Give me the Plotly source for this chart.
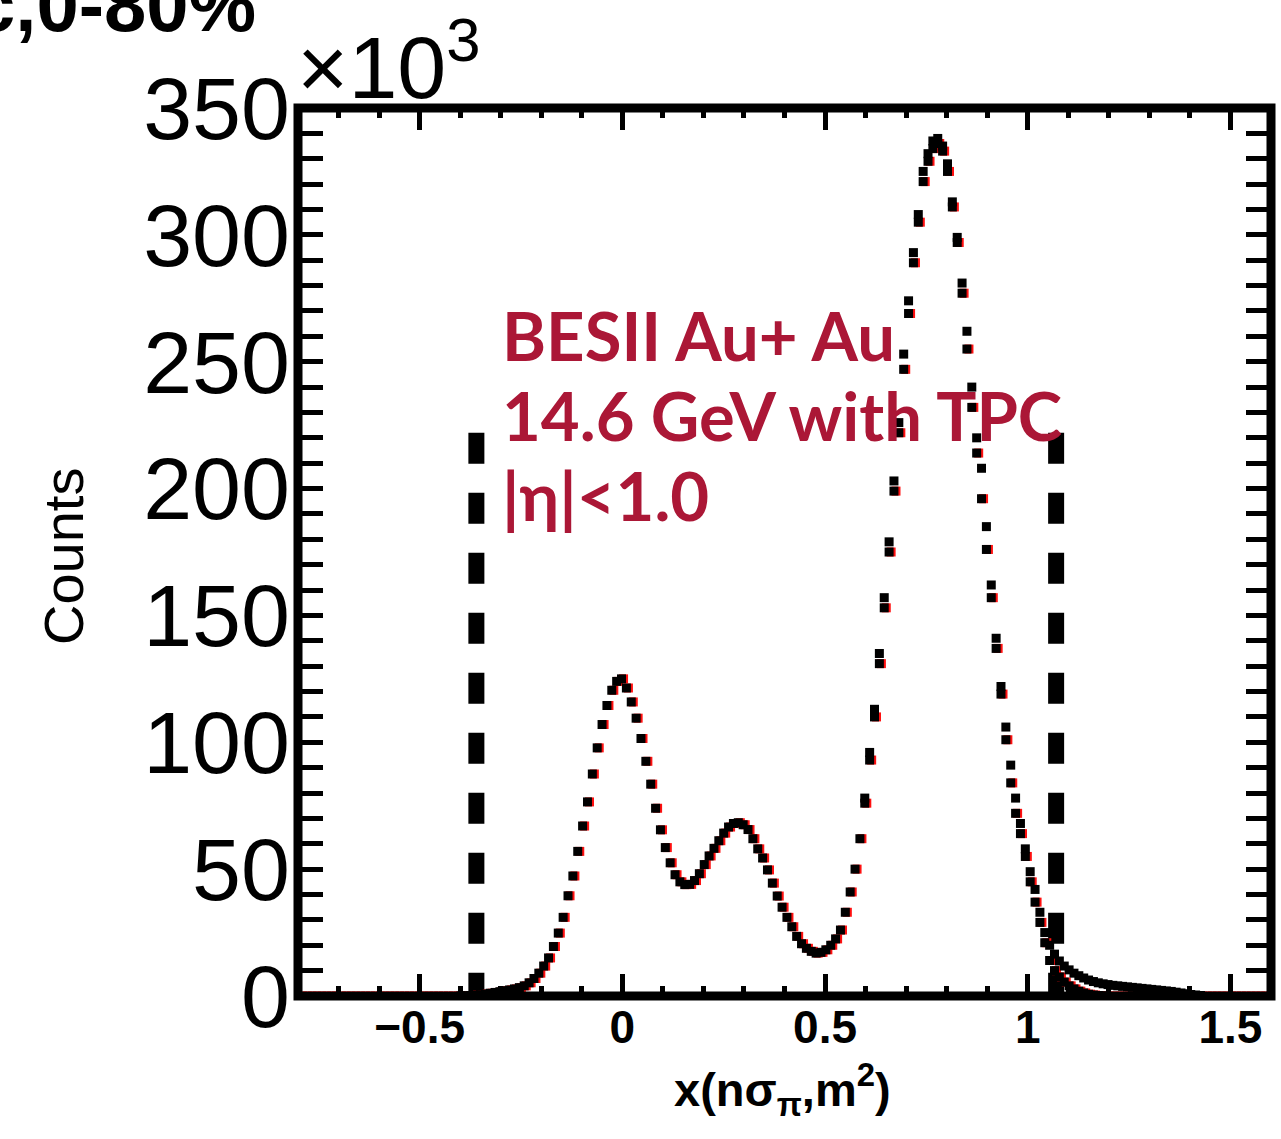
import numpy as np
import plotly.graph_objects as go

# ---- histogram binning -------------------------------------------------
bin_lo = -0.8
bin_width = 0.012
n_bins = 200
centers = bin_lo + bin_width * (np.arange(n_bins) + 0.5)

# counts per bin, in units of 10^3 (lower series, drawn with red shadow)
counts_lower = (
    [0.0] * 33
    + [0.05, 0.1, 0.2, 0.35, 0.55, 0.8, 1.1, 1.4, 1.7, 2.1,
       2.4, 2.8, 3.3, 4.0, 5.2, 6.9, 9.0, 11.8, 15.0, 19.5,
       24.8, 31.0, 39.5, 47.3, 57.0, 67.0, 76.5, 87.5, 97.8, 107.0,
       114.5, 120.5, 124.0, 125.0, 121.4, 115.9, 109.5, 101.5, 92.5, 83.5,
       74.0, 65.5, 58.5, 52.5, 47.8, 45.0, 43.9, 44.0, 45.5, 48.2,
       51.8, 55.2, 58.2, 61.2, 64.2, 66.6, 68.0, 68.3, 67.5, 65.6,
       62.0, 58.0, 54.4, 49.7, 44.5, 39.4, 35.0, 31.0, 27.3, 23.5,
       20.6, 18.8, 17.6, 16.9, 17.2, 18.2, 20.0, 22.5, 26.0, 33.0,
       41.0, 50.0, 62.0, 76.0, 93.0, 110.0, 131.0, 153.0, 175.0, 199.0,
       222.0, 247.0, 269.0, 289.0, 305.0, 321.0, 329.0, 334.0, 336.0, 333.0,
       325.0, 311.0, 297.0, 277.0, 255.0, 232.0, 214.0, 196.0, 176.0, 157.0,
       137.0, 119.0, 101.0, 84.0, 72.0, 64.0, 55.0, 45.0, 37.0, 29.0,
       21.0, 14.0, 10.0, 7.5, 5.5, 4.0, 2.8, 1.9, 1.2, 0.7,
       0.4, 0.2, 0.1]
    + [0.0] * 34
)

# upper series over the proton peak and its tail (bins 116..185)
upper_first_bin = 116
counts_upper = [
    78, 96, 113, 135, 157, 179, 203, 226, 253, 274,
    293, 308, 325, 332, 337, 338, 335, 328, 313, 299,
    281, 262, 240, 220, 208, 185, 162, 141, 122, 106,
    91, 78, 68, 58, 49, 42, 33, 25, 20, 16.5,
    13.8, 11.8, 10.3, 9.0, 8.0, 7.1, 6.3, 5.7, 5.2, 4.8,
    4.5, 4.2, 4.0, 3.8, 3.6, 3.4, 3.2, 3.0, 2.8, 2.6,
    2.4, 2.2, 2.0, 1.8, 1.5, 1.2, 0.9, 0.6, 0.4, 0.2,
]

# selection cuts (dashed lines) and their drawn height (10^3)
cut_positions = [-0.36, 1.07]
cut_height = 222

x_tick_vals = [-0.5, 0, 0.5, 1, 1.5]
x_tick_text = ["\u22120.5", "0", "0.5", "1", "1.5"]
y_tick_vals = [0, 50, 100, 150, 200, 250, 300, 350]
y_tick_text = ["0", "50", "100", "150", "200", "250", "300", "350"]

label_lines = ["BESII Au+ Au", "14.6 GeV with TPC", "|\u03b7|<1.0"]

# ---- styling -----------------------------------------------------------
W, H = 1281, 1139
L, R, T, B = 298, 10, 108, 143
RED_TXT = "#AB1736"
MARK = 9
X_RANGE = [-0.8, 1.6]
SHADOW_SHIFT = 0.005   # red shadow sits ~2 px right of each black marker


def paper(xp, yp):
    """pixel position -> paper coordinates"""
    return (xp - L) / (W - L - R), (H - B - yp) / (H - T - B)


counts_lower = np.array(counts_lower)
upper_x = centers[upper_first_bin:upper_first_bin + len(counts_upper)]
nonzero = counts_lower > 0

fig = go.Figure()

for c in cut_positions:
    fig.add_trace(go.Scatter(
        x=[c, c], y=[cut_height, 0], mode="lines",
        line=dict(color="black", width=16, dash="31px,29px"),
        hoverinfo="skip", showlegend=False))

# red shadow of the lower series (overlay axis shifted slightly)
fig.add_trace(go.Scatter(
    x=centers, y=counts_lower, mode="markers", xaxis="x2",
    marker=dict(symbol="square", size=MARK, color="#ff1010"),
    showlegend=False))
# black markers on a third overlay so they sit above the shadow
fig.add_trace(go.Scatter(
    x=centers[nonzero], y=counts_lower[nonzero], mode="markers", xaxis="x3",
    marker=dict(symbol="square", size=MARK, color="black"),
    showlegend=False))
fig.add_trace(go.Scatter(
    x=upper_x, y=counts_upper, mode="markers", xaxis="x3",
    marker=dict(symbol="square", size=MARK, color="black"),
    showlegend=False))

axis_common = dict(
    ticks="inside", tickcolor="black", tickwidth=5, mirror="allticks",
    showline=False, showgrid=False, zeroline=False,
)

fig.update_layout(
    width=W, height=H,
    margin=dict(l=L, r=R, t=T, b=B, pad=0),
    paper_bgcolor="white", plot_bgcolor="white",
    xaxis=dict(
        range=X_RANGE, tickvals=x_tick_vals, ticktext=x_tick_text,
        ticklen=22,
        tickfont=dict(family="Liberation Sans", size=46, color="black", weight="bold"),
        minor=dict(ticks="inside", ticklen=10, tickwidth=5, tickcolor="black",
                   dtick=0.1, tick0=0, showgrid=False),
        **axis_common),
    xaxis2=dict(range=[X_RANGE[0] - SHADOW_SHIFT, X_RANGE[1] - SHADOW_SHIFT],
                overlaying="x", anchor="y", visible=False),
    xaxis3=dict(range=X_RANGE, overlaying="x", anchor="y", visible=False),
    yaxis=dict(
        range=[0, 350], tickvals=y_tick_vals, ticktext=y_tick_text,
        ticklen=25, ticklabelstandoff=7,
        tickfont=dict(family="Liberation Sans", size=88, color="black"),
        minor=dict(ticks="inside", ticklen=10, tickwidth=5, tickcolor="black",
                   dtick=10, tick0=0, showgrid=False),
        **axis_common),
    shapes=[dict(type="rect", xref="paper", yref="paper", x0=0, x1=1, y0=0, y1=1,
                 line=dict(color="black", width=9), layer="above")],
)

ann = []
# exponent of the y axis
ax, ay = paper(295, 61)
ann.append(dict(text="\u00d710<sup>3</sup>", x=ax, y=ay, xref="paper", yref="paper",
                xanchor="left", yanchor="middle", showarrow=False,
                font=dict(family="Liberation Sans", size=88, color="black")))
# corner heading (continues past the left edge)
ax, ay = paper(258, 5)
ann.append(dict(text="c,0-80%", x=ax, y=ay, xref="paper", yref="paper",
                xanchor="right", yanchor="middle", showarrow=False,
                font=dict(family="Liberation Sans", size=76, color="black", weight="bold")))
# axis titles
ax, ay = paper(63, 557)
ann.append(dict(text="Counts", x=ax, y=ay, xref="paper", yref="paper", textangle=-90,
                xanchor="center", yanchor="middle", showarrow=False,
                font=dict(family="Liberation Sans", size=56, color="black")))
ax, ay = paper(782, 1089)
ann.append(dict(text="x(n\u03c3<sub>\u03c0</sub>,m<sup>2</sup>)", x=ax, y=ay,
                xref="paper", yref="paper", xanchor="center", yanchor="middle",
                showarrow=False,
                font=dict(family="Liberation Sans", size=47, color="black", weight="bold")))
# red label block
for k, line in enumerate(label_lines):
    ax, ay = paper(500, 335 + 80 * k)
    ann.append(dict(text=line, x=ax, y=ay, xref="paper", yref="paper",
                    xanchor="left", yanchor="middle", showarrow=False,
                    font=dict(family="Lato", size=67, color=RED_TXT, weight="bold")))
fig.update_layout(annotations=ann)

fig.write_html("out.html")
